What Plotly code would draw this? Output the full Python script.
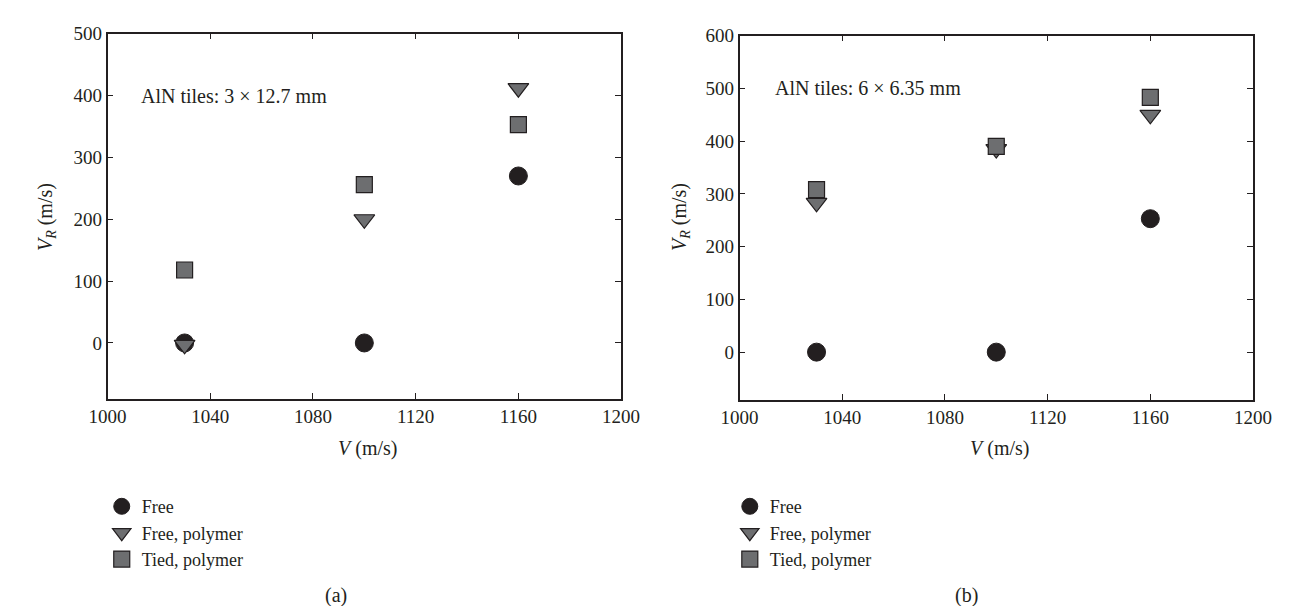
import plotly.graph_objects as go

W, H = 1298, 606

v = [1030, 1100, 1160]
a_free = [0, 0, 270]
a_free_poly = [-3, 200, 412]
a_tied_poly = [118, 256, 353]
b_free = [0, 0, 253]
b_free_poly = [283, 385, 450]
b_tied_poly = [308, 390, 483]
names = ["Free", "Free, polymer", "Tied, polymer"]
x_ticks = [1000, 1040, 1080, 1120, 1160, 1200]
a_y_ticks = [0, 100, 200, 300, 400, 500]
b_y_ticks = [0, 100, 200, 300, 400, 500, 600]

FONT = "Liberation Serif"
INK = "#231f20"
GRAY = "#6d6e70"

styles = [
    dict(symbol="circle", size=18, color=INK, line=dict(color=INK, width=1)),
    dict(symbol="triangle-down", size=18, color=GRAY, line=dict(color=INK, width=1.2)),
    dict(symbol="square", size=16, color=GRAY, line=dict(color=INK, width=1.2)),
]

fig = go.Figure()
for i, ys in enumerate([a_free, a_free_poly, a_tied_poly]):
    fig.add_trace(go.Scatter(x=v, y=ys, mode="markers", name=names[i], marker=styles[i],
                             xaxis="x", yaxis="y", legend="legend"))
for i, ys in enumerate([b_free, b_free_poly, b_tied_poly]):
    fig.add_trace(go.Scatter(x=v, y=ys, mode="markers", name=names[i], marker=styles[i],
                             xaxis="x2", yaxis="y2", legend="legend2"))

def px(x):
    return x / W

def py(y):
    return 1 - y / H

axis_common = dict(showgrid=False, zeroline=False, showline=True, linecolor=INK, linewidth=1.5,
                   mirror="ticks", ticks="inside", ticklen=6, tickcolor=INK, tickwidth=1.2,
                   tickfont=dict(family=FONT, size=19, color=INK))

leg_common = dict(xanchor="left", yanchor="top", font=dict(family=FONT, size=18, color=INK),
                  bgcolor="rgba(0,0,0,0)", tracegroupgap=0, itemsizing="trace")

fig.update_layout(
    width=W, height=H, margin=dict(l=0, r=0, t=0, b=0),
    paper_bgcolor="white", plot_bgcolor="white",
    font=dict(family=FONT, size=20, color=INK),
    xaxis=dict(domain=[px(83), px(612)], range=[1000, 1200], tickvals=x_ticks, anchor="y", **axis_common),
    yaxis=dict(domain=[py(387), py(16)], range=[-90, 500], tickvals=a_y_ticks, anchor="x", **axis_common),
    xaxis2=dict(domain=[px(734), px(1263)], range=[1000, 1200], tickvals=x_ticks, anchor="y2", **axis_common),
    yaxis2=dict(domain=[py(388), py(18)], range=[-90, 600], tickvals=b_y_ticks, anchor="x2", **axis_common),
    legend=dict(x=px(77), y=py(478), **leg_common),
    legend2=dict(x=px(724), y=py(478), **leg_common),
)

ann = [
    dict(text="AlN tiles: 3 × 12.7 mm", x=px(115), y=py(79), xanchor="left", yanchor="middle"),
    dict(text="AlN tiles: 6 × 6.35 mm", x=px(768), y=py(71), xanchor="left", yanchor="middle"),
    dict(text="<i>V</i> (m/s)", x=px(351), y=py(438), xanchor="center", yanchor="middle"),
    dict(text="<i>V</i> (m/s)", x=px(1002), y=py(438), xanchor="center", yanchor="middle"),
    dict(text="<i>V</i><sub><i>R</i></sub> (m/s)", x=px(20), y=py(202), xanchor="center", yanchor="middle", textangle=-90),
    dict(text="<i>V</i><sub><i>R</i></sub> (m/s)", x=px(673), y=py(202), xanchor="center", yanchor="middle", textangle=-90),
    dict(text="(a)", x=px(318), y=py(587), xanchor="center", yanchor="middle"),
    dict(text="(b)", x=px(968), y=py(587), xanchor="center", yanchor="middle"),
]
for a in ann:
    a.update(xref="paper", yref="paper", showarrow=False, font=dict(family=FONT, size=20, color=INK))
    fig.add_annotation(**a)

fig.write_html("out.html")
